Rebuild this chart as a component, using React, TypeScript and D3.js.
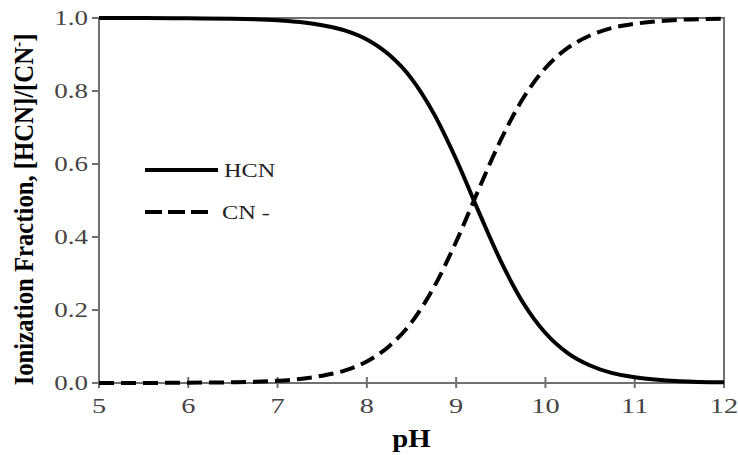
import React from "react";
import * as d3 from "d3";

const pH = [5, 5.5, 6, 6.5, 7, 7.25, 7.5, 7.75, 8, 8.25, 8.5, 8.75, 9, 9.25, 9.5, 9.75, 10, 10.25, 10.5, 10.75, 11, 11.5, 12];
const hcn = [1.0, 1.0, 0.999, 0.998, 0.994, 0.989, 0.98, 0.966, 0.941, 0.899, 0.834, 0.738, 0.613, 0.471, 0.334, 0.22, 0.137, 0.082, 0.048, 0.027, 0.016, 0.005, 0.002];
const cn = [0.0, 0.0, 0.001, 0.002, 0.006, 0.011, 0.02, 0.034, 0.059, 0.101, 0.166, 0.262, 0.387, 0.529, 0.666, 0.78, 0.863, 0.918, 0.952, 0.973, 0.984, 0.995, 0.998];
const xTicks = [5, 6, 7, 8, 9, 10, 11, 12];
const yTicks = [0, 0.2, 0.4, 0.6, 0.8, 1.0];

const W = 738, H = 455;
const L = 99, R = 724, T = 18, B = 383;
const SX = 1.35;
const font = "'Liberation Serif', 'Times New Roman', serif";

export default function App() {
  const x = d3.scaleLinear().domain([5, 12]).range([L, R]);
  const y = d3.scaleLinear().domain([0, 1]).range([B, T]);
  const line = (vals: number[]) =>
    d3.line<number>().x((_, i) => x(pH[i])).y((d) => y(d)).curve(d3.curveMonotoneX)(vals) || "";
  const axisColor = "#707070";
  return (
    <svg width={W} height={H} style={{ position: "absolute", left: 0, top: 0, background: "#fff" }}>
      <rect x={0} y={0} width={W} height={H} fill="#fff" />
      <rect x={L} y={T} width={R - L} height={B - T} fill="none" stroke={axisColor} strokeWidth={2} />
      {yTicks.map((t) => (
        <g key={"y" + t}>
          <line x1={L - 7} x2={L} y1={y(t)} y2={y(t)} stroke={axisColor} strokeWidth={2} />
          <text
            transform={`translate(${L - 11},${y(t) + 7}) scale(${SX},1)`}
            textAnchor="end"
            fontFamily={font}
            fontSize={20}
            fill="#444"
          >
            {t.toFixed(1)}
          </text>
        </g>
      ))}
      {xTicks.map((t) => (
        <g key={"x" + t}>
          <line x1={x(t)} x2={x(t)} y1={B - 6} y2={B + 5} stroke={axisColor} strokeWidth={2} />
          <text
            transform={`translate(${x(t)},${B + 30}) scale(${SX},1)`}
            textAnchor="middle"
            fontFamily={font}
            fontSize={21}
            fill="#444"
          >
            {t}
          </text>
        </g>
      ))}
      <path d={line(hcn)} fill="none" stroke="#000" strokeWidth={4} />
      <path d={line(cn)} fill="none" stroke="#000" strokeWidth={4} strokeDasharray="15,7" />
      <line x1={145} x2={218} y1={170} y2={170} stroke="#000" strokeWidth={4} />
      <text transform={`translate(224,177) scale(${SX},1)`} fontFamily={font} fontSize={18} fill="#222">HCN</text>
      <line x1={145} x2={212} y1={212} y2={212} stroke="#000" strokeWidth={4} strokeDasharray="17,6" />
      <text transform={`translate(222,219) scale(${SX},1)`} fontFamily={font} fontSize={18} fill="#222">CN -</text>
      <text
        transform={`translate(${(L + R) / 2},${H - 8}) scale(1.15,1)`}
        textAnchor="middle"
        fontFamily={font}
        fontSize={25}
        fontWeight="bold"
      >
        pH
      </text>
      <text
        transform={`translate(33,${(T + B) / 2 + 9}) rotate(-90) scale(1.03,1.1)`}
        textAnchor="middle"
        fontFamily={font}
        fontSize={24}
        fontWeight="bold"
      >
        Ionization Fraction, [HCN]/[CN
        <tspan dy={-8} fontSize={15}>-</tspan>
        <tspan dy={8}>]</tspan>
      </text>
    </svg>
  );
}
